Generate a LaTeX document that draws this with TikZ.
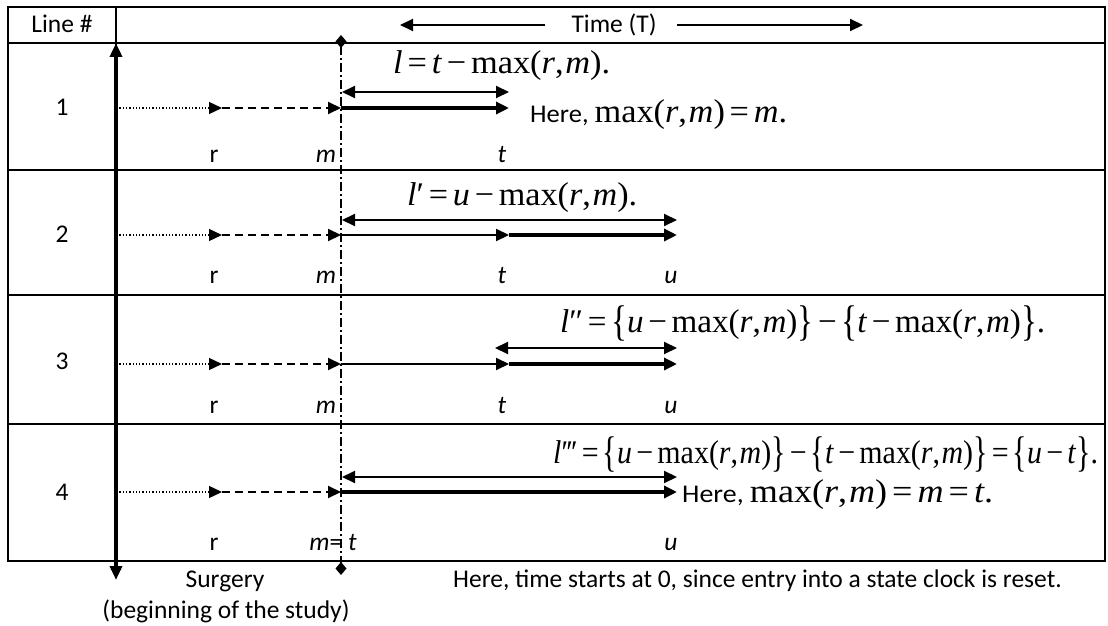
\documentclass[tikz,border=0pt]{standalone}
\usepackage{fontspec}
\usepackage{graphicx}
\setmainfont{Carlito}
\newfontfamily\tms{Liberation Serif}
\usetikzlibrary{arrows.meta}
\newcommand{\vi}[1]{\textit{#1}}
\newcommand{\gapsp}{\hspace{0.14em}}
\newcommand{\Eq}{\gapsp=\gapsp}
\newcommand{\Mi}{\gapsp−\gapsp}
\newcommand{\mxrm}{max(\vi{r},\hspace{0.05em}\vi{m})}
\newcommand{\LBr}{\raisebox{-0.1em}{\scalebox{1}[1.3]{\{}}}
\newcommand{\RBr}{\raisebox{-0.1em}{\scalebox{1}[1.3]{\}}}}
\newcommand{\fitw}[2]{\resizebox{#1pt}{\height}{#2}}
\begin{document}
\begin{tikzpicture}[x=1pt,y=-1pt,
  >={Triangle[length=13pt,width=12pt]},
  tbl/.style={line width=2pt},
  tharr/.style={line width=2pt,->},
  tkarr/.style={line width=4.5pt,->},
  dblarr/.style={line width=2pt,<->},
  dotarr/.style={line width=1.3pt,dash pattern=on 1.3pt off 2pt,->},
  dasharr/.style={line width=2pt,dash pattern=on 8pt off 5pt,->},
  dashdot/.style={line width=2pt,dash pattern=on 9pt off 3pt on 2pt off 3pt,
    {Diamond[length=13pt,width=11pt]}-{Diamond[length=13pt,width=11pt]}},
  axisarr/.style={line width=4pt,{Triangle[length=14pt,width=12pt]}-{Triangle[length=14pt,width=12pt]}},
  txt/.style={inner sep=0pt,font=\fontsize{25.5}{30}\selectfont},
  mth/.style={inner sep=0pt,font=\fontsize{33}{38}\selectfont\tms}]
\useasboundingbox (0,0) rectangle (1108,626);
% table
\draw[tbl] (8,7) rectangle (1105,561);
\draw[tbl] (8,43) -- (1105,43);
\draw[tbl] (8,170) -- (1105,170);
\draw[tbl] (8,295) -- (1105,295);
\draw[tbl] (8,424) -- (1105,424);
\draw[tbl] (116,7) -- (116,561);
% header
\node[txt,anchor=base] (hline) at (62,33) {Line \#};
\node[txt,anchor=base] (htime) at (614,33) {Time (T)};
\coordinate (tl0) at (545,25); \coordinate (tl1) at (400,25);
\coordinate (tr0) at (677,25); \coordinate (tr1) at (863,25);
\draw[tharr] (tl0) -- (tl1);
\draw[tharr] (tr0) -- (tr1);
% axes
\coordinate (axT) at (116,43); \coordinate (axB) at (116,580);
\draw[axisarr] (axT) -- (axB);
\coordinate (dT) at (341,35); \coordinate (dB) at (341,575);
\draw[dashdot] (dT) -- (dB);
% row numbers
\node[txt,anchor=base] (n1) at (62,115) {1};
\node[txt,anchor=base] (n2) at (62,242) {2};
\node[txt,anchor=base] (n3) at (62,369) {3};
\node[txt,anchor=base] (n4) at (62,500) {4};
% row arrows: coordinates
\foreach \i/\y/\yu in {1/108/92, 2/235/220, 3/364/348, 4/492/477}{
  \coordinate (s\i) at (116,\y);
  \coordinate (r\i) at (222,\y);
  \coordinate (m\i) at (341,\y);
  \coordinate (t\i) at (509,\y);
  \coordinate (u\i) at (677,\y);
  \coordinate (mu\i) at (342,\yu);
  \coordinate (tu\i) at (509,\yu);
  \coordinate (uu\i) at (677,\yu);
  \draw[dotarr] (s\i) -- (r\i);
  \draw[dasharr] (r\i) -- (m\i);
}
\coordinate (tv3) at (495,348);
% row 1
\draw[dblarr] (mu1) -- (tu1);
\draw[tkarr] (m1) -- (t1);
% row 2
\draw[dblarr] (mu2) -- (uu2);
\draw[tharr] (m2) -- (t2);
\draw[tkarr] (t2) -- (u2);
% row 3
\draw[dblarr] (tv3) -- (uu3);
\draw[tharr] (m3) -- (t3);
\draw[tkarr] (t3) -- (u3);
% row 4
\draw[dblarr] (mu4) -- (uu4);
\draw[tkarr] (m4) -- (u4);
% labels
\foreach \i/\y in {1/162, 2/283, 3/413}{
  \node[txt,anchor=base] (lr\i) at (214,\y) {r};
  \node[txt,anchor=base] (lm\i) at (326,\y) {\vi{m}};
  \node[txt,anchor=base] (lt\i) at (502,\y) {\vi{t}};
}
\node[txt,anchor=base] (lu2) at (671,283) {\vi{u}};
\node[txt,anchor=base] (lu3) at (671,413) {\vi{u}};
\node[txt,anchor=base] (lr4) at (214,550) {r};
\node[txt,anchor=base] (lmt4) at (333,550) {\vi{m}= \vi{t}};
\node[txt,anchor=base] (lu4) at (671,550) {\vi{u}};
% formulas
\node[mth,anchor=base west] (f1) at (393,74) {\fitw{217}{\vi{l}\Eq\vi{t}\Mi\mxrm.}};
\node[anchor=base west,inner sep=0pt] (h1) at (530,122) {\fitw{257}{\fontsize{25.5}{30}\selectfont Here,\ {\fontsize{33}{38}\selectfont\tms \mxrm\Eq\vi{m}.}}};
\node[mth,anchor=base west] (f2) at (407,205) {\fitw{230}{\vi{l}′\Eq\vi{u}\Mi\mxrm.}};
\node[mth,anchor=base west] (f3) at (560,332) {\fitw{485}{\vi{l}″\Eq\LBr\vi{u}\Mi\mxrm\RBr\Mi\LBr\vi{t}\Mi\mxrm\RBr.}};
\node[mth,anchor=base west] (f4) at (553,463) {\fitw{545}{\vi{l}′\kern-0.06em′\kern-0.06em′\Eq\LBr\vi{u}\Mi\mxrm\RBr\Mi\LBr\vi{t}\Mi\mxrm\RBr\Eq\LBr\vi{u}\Mi\vi{t}\RBr.}};
\node[anchor=base west,inner sep=0pt] (h4) at (682,502) {\fitw{311}{\fontsize{25.5}{30}\selectfont Here,\ {\fontsize{33}{38}\selectfont\tms \mxrm\Eq\vi{m}\Eq\vi{t}.}}};
% bottom
\node[txt,anchor=base] (surg) at (225,587) {Surgery};
\node[txt,anchor=base] (beg) at (226,618) {(beginning of the study)};
\node[txt,anchor=base west] (note) at (453,587) {Here, time starts at 0, since entry into a state clock is reset.};
\end{tikzpicture}
\end{document}
